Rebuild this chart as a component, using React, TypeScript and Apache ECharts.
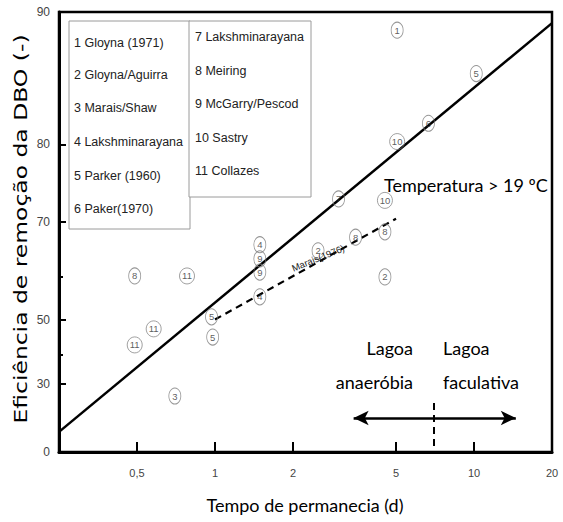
import React, { useEffect, useRef } from "react";
import * as echarts from "echarts";

// Axis ticks
const xTickValues = [0.5, 1, 2, 5, 10, 20];
const xInnerTicks = [0.5, 1, 2, 5, 10];
const yLabelValues = [90, 80, 70, 50, 30, 0];
const yMinorValues = [60, 40];

// Study reference numbers, residence time (d) and BOD removal efficiency (%)
const pointIds = ["1", "5", "6", "10", "10", "8", "8", "7", "4", "9", "9", "2", "2", "4", "8", "11", "11", "11", "5", "5", "3"];
const pointTimes = [5.05, 10.2, 6.67, 5.05, 4.53, 4.53, 3.49, 3.0, 1.49, 1.49, 1.49, 2.5, 4.53, 1.49, 0.49, 0.78, 0.58, 0.49, 0.97, 0.98, 0.7];
const pointEff = [89.0, 86.2, 82.1, 80.3, 73.2, 68.4, 67.5, 73.4, 66.2, 63.6, 61.0, 65.1, 60.0, 55.6, 60.2, 60.2, 47.5, 42.9, 50.7, 45.2, 25.4];

// Design line (T > 19 °C)
const fitTimes = [0.25, 20];
const fitEff = [10, 89.4];

// Marais (1976)
const maraisTimes = [1, 5];
const maraisEff = [50, 70.5];

// Anaerobic / facultative pond boundary
const boundaryTime = 7;
const boundaryEff = [22.6, 0];
const arrowTimes = [3.43, 14.5];
const arrowEff = 16.3;

const legendLeft = [
  "1 Gloyna (1971)",
  "2 Gloyna/Aguirra",
  "3 Marais/Shaw",
  "4 Lakshminarayana",
  "5 Parker (1960)",
  "6 Paker(1970)",
];
const legendRight = [
  "7 Lakshminarayana",
  "8 Meiring",
  "9 McGarry/Pescod",
  "10 Sastry",
  "11 Collazes",
];

// The vertical scale is logarithmic in the remaining fraction (100 - efficiency)
const toAxis = (e: number) => 100 - e;

const SANS = "'Liberation Sans', Arial, sans-serif";
const HUMAN = "Lato, 'Open Sans', sans-serif";

export default function App() {
  const ref = useRef<HTMLDivElement>(null);

  useEffect(() => {
    if (!ref.current) return;
    const chart = echarts.init(ref.current, undefined, { renderer: "svg" });

    const legendText = (items: string[], x: number, ys: number[]) =>
      items.map((t, i) => ({
        type: "text",
        x,
        y: ys[i],
        z: 20,
        scaleY: 1.08,
        style: {
          text: t,
          font: `12.5px ${SANS}`,
          fill: "#222",
          textAlign: "left",
          textVerticalAlign: "middle",
        },
      }));

    const bigText = (t: string, x: number, y: number, align: string) => ({
      type: "text",
      x,
      y,
      z: 20,
      style: {
        text: t,
        font: `18px ${HUMAN}`,
        fill: "#000",
        textAlign: align,
        textVerticalAlign: "middle",
      },
    });

    const option: any = {
      animation: false,
      grid: {
        left: 59,
        right: 11,
        top: 12,
        bottom: 70,
        show: true,
        borderColor: "#000",
        borderWidth: 2.5,
        backgroundColor: "transparent",
      },
      xAxis: [
        {
          type: "log",
          logBase: 10,
          min: 0.25,
          max: 20,
          axisLine: { show: true, lineStyle: { color: "#000", width: 3 } },
          axisTick: {
            show: true,
            inside: true,
            length: 10,
            customValues: xInnerTicks,
            lineStyle: { color: "#000", width: 2 },
          },
          axisLabel: {
            customValues: xTickValues,
            formatter: (v: number) => String(v).replace(".", ","),
            color: "#444",
            fontSize: 11,
            fontFamily: SANS,
            margin: 15,
          },
          splitLine: { show: false },
          minorTick: { show: false },
        },
      ],
      yAxis: [
        {
          type: "log",
          logBase: 10,
          min: 10,
          max: 100,
          inverse: true,
          position: "left",
          axisLine: { show: true, lineStyle: { color: "#000", width: 3 } },
          axisTick: {
            show: true,
            inside: true,
            length: 7,
            customValues: yLabelValues.map(toAxis),
            lineStyle: { color: "#000", width: 2 },
          },
          axisLabel: {
            customValues: yLabelValues.map(toAxis),
            formatter: (v: number) => String(Math.round(100 - v)),
            color: "#444",
            fontSize: 12,
            fontFamily: SANS,
            margin: 9,
          },
          splitLine: { show: false },
          minorTick: { show: false },
        },
        {
          type: "log",
          logBase: 10,
          min: 10,
          max: 100,
          inverse: true,
          position: "left",
          axisLine: { show: false },
          axisTick: {
            show: true,
            inside: true,
            length: 4,
            customValues: yMinorValues.map(toAxis),
            lineStyle: { color: "#000", width: 2 },
          },
          axisLabel: { show: false },
          splitLine: { show: false },
        },
      ],
      series: [
        {
          type: "line",
          data: fitTimes.map((t, i) => [t, toAxis(fitEff[i])]),
          showSymbol: false,
          symbol: "none",
          lineStyle: { color: "#000", width: 2.5 },
          silent: true,
          z: 3,
        },
        {
          type: "line",
          data: maraisTimes.map((t, i) => [t, toAxis(maraisEff[i])]),
          showSymbol: false,
          symbol: "none",
          lineStyle: { color: "#000", width: 2.2, type: [7, 5] },
          silent: true,
          z: 3,
        },
        {
          type: "scatter",
          data: pointIds.map((id, i) => ({
            name: id,
            value: [pointTimes[i], toAxis(pointEff[i])],
            symbolSize: id.length > 1 ? [15, 16] : [12, 16],
          })),
          symbol: "circle",
          itemStyle: {
            color: "rgba(255,255,255,0)",
            borderColor: "#7a7a7a",
            borderWidth: 0.9,
          },
          label: {
            show: true,
            position: "inside",
            formatter: "{b}",
            fontSize: 9.5,
            fontFamily: SANS,
            color: "#333",
          },
          silent: true,
          z: 4,
        },
        {
          type: "line",
          data: [],
          silent: true,
          markLine: {
            silent: true,
            symbol: ["arrow", "arrow"],
            symbolSize: [11, 15],
            label: { show: false },
            lineStyle: { color: "#000", width: 2.5, type: "solid" },
            data: [
              [
                { coord: [arrowTimes[0], toAxis(arrowEff)] },
                { coord: [arrowTimes[1], toAxis(arrowEff)] },
              ],
            ],
          },
        },
        {
          type: "line",
          data: [],
          silent: true,
          markLine: {
            silent: true,
            symbol: ["none", "none"],
            label: { show: false },
            lineStyle: { color: "#000", width: 2, type: [7, 5] },
            data: [
              [
                { coord: [boundaryTime, toAxis(boundaryEff[0])] },
                { coord: [boundaryTime, toAxis(boundaryEff[1])] },
              ],
            ],
          },
        },
      ],
      graphic: [
        {
          type: "rect",
          z: 10,
          shape: { x: 69, y: 21, width: 121, height: 208 },
          style: { fill: "#fff", stroke: "#9a9a9a", lineWidth: 1 },
        },
        {
          type: "rect",
          z: 10,
          shape: { x: 189, y: 21, width: 122, height: 176 },
          style: { fill: "#fff", stroke: "#9a9a9a", lineWidth: 1 },
        },
        ...legendText(legendLeft, 74, [42, 74, 107, 141, 175, 208]),
        ...legendText(legendRight, 195, [36, 70, 103, 137, 170]),
        {
          type: "text",
          x: 318,
          y: 258,
          rotation: (22 * Math.PI) / 180,
          z: 20,
          style: {
            text: "Marais(1976)",
            font: `9.5px ${SANS}`,
            fill: "#222",
            textAlign: "center",
            textVerticalAlign: "middle",
          },
        },
        bigText("Temperatura > 19 ºC", 384, 185, "left"),
        bigText("Lagoa", 413, 348, "right"),
        bigText("anaeróbia", 413, 382, "right"),
        bigText("Lagoa", 443, 348, "left"),
        bigText("faculativa", 443, 382, "left"),
        {
          type: "text",
          x: 305,
          y: 505,
          z: 20,
          style: {
            text: "Tempo de permanecia (d)",
            font: `18px ${HUMAN}`,
            fill: "#000",
            textAlign: "center",
            textVerticalAlign: "middle",
          },
        },
        {
          type: "text",
          x: 21,
          y: 229,
          rotation: Math.PI / 2,
          scaleX: 1.38,
          z: 20,
          style: {
            text: "Eficiência de remoção da DBO (-)",
            font: `17px 'DejaVu Sans', sans-serif`,
            fill: "#000",
            textAlign: "center",
            textVerticalAlign: "middle",
          },
        },
      ],
    };

    chart.setOption(option);
    return () => chart.dispose();
  }, []);

  return (
    <div
      ref={ref}
      style={{ position: "fixed", left: 0, top: 0, width: 563, height: 522, background: "#fff" }}
    />
  );
}
